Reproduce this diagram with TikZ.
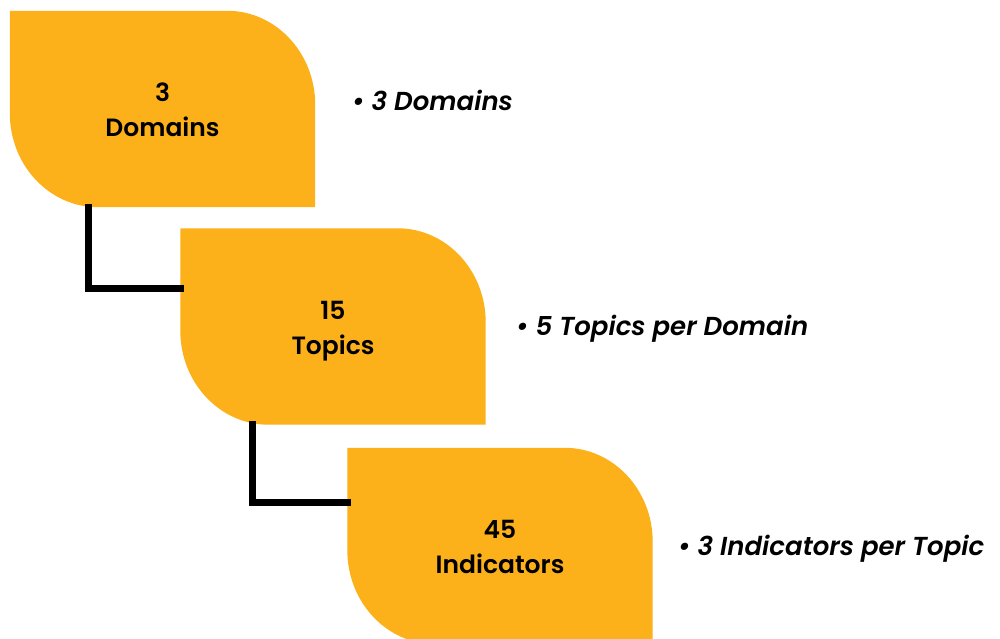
\documentclass[tikz,border=0pt]{standalone}
\usepackage{fontspec}
\setmainfont{Poppins}
\newfontfamily\notefont{Poppins SemiBold Italic}
\newfontfamily\boxfont{Poppins SemiBold}
\usetikzlibrary{calc,backgrounds}
\definecolor{leafc}{HTML}{FCB11A}
\tikzset{
  leafbox/.style={rectangle, minimum width=305pt, minimum height=196pt, inner sep=0pt},
  leaftext/.style={align=center, inner sep=0pt, font=\fontsize{25}{35}\selectfont\boxfont, text=black},
  note/.style={anchor=base west, inner sep=0pt, font=\fontsize{26}{30}\selectfont\notefont, text=black},
  link/.style={line width=7pt, black, line cap=rect}
}
\newcommand\leafshape[1]{%
  \fill[leafc] (#1.north west) -- ([xshift=-88pt]#1.north east)
    arc[start angle=90,end angle=0,x radius=88pt,y radius=94pt]
    -- (#1.south east) -- ([xshift=88pt]#1.south west)
    arc[start angle=270,end angle=180,x radius=88pt,y radius=94pt] -- cycle;}
\begin{document}
\begin{tikzpicture}[x=1pt,y=1pt]
\useasboundingbox (0,0) rectangle (1000,639);
\node[leafbox] (b1) at (162.5,530) {};
\node[leafbox] (b2) at (333,312.5) {};
\node[leafbox] (b3) at (500,93) {};
\begin{scope}[on background layer]
  \leafshape{b1}
  \leafshape{b2}
  \leafshape{b3}
  \draw[link] ([xshift=-74pt]b1.south) |- ([yshift=38pt]b2.west);
  \draw[link] ([xshift=-81pt]b2.south) |- ([yshift=43pt]b3.west);
\end{scope}
\node[leaftext] (t1) at ([yshift=-1pt]b1.center) {3\\Domains};
\node[leaftext] (t2) at ([yshift=-5pt]b2.center) {15\\Topics};
\node[leaftext] (t3) at ([yshift=-1pt]b3.center) {45\\Indicators};
\node[note] (n1) at (352,528) {• 3 Domains};
\node[note] (n2) at (516,303) {• 5 Topics per Domain};
\node[note] (n3) at (678,83) {• 3 Indicators per Topic};
\end{tikzpicture}
\end{document}
